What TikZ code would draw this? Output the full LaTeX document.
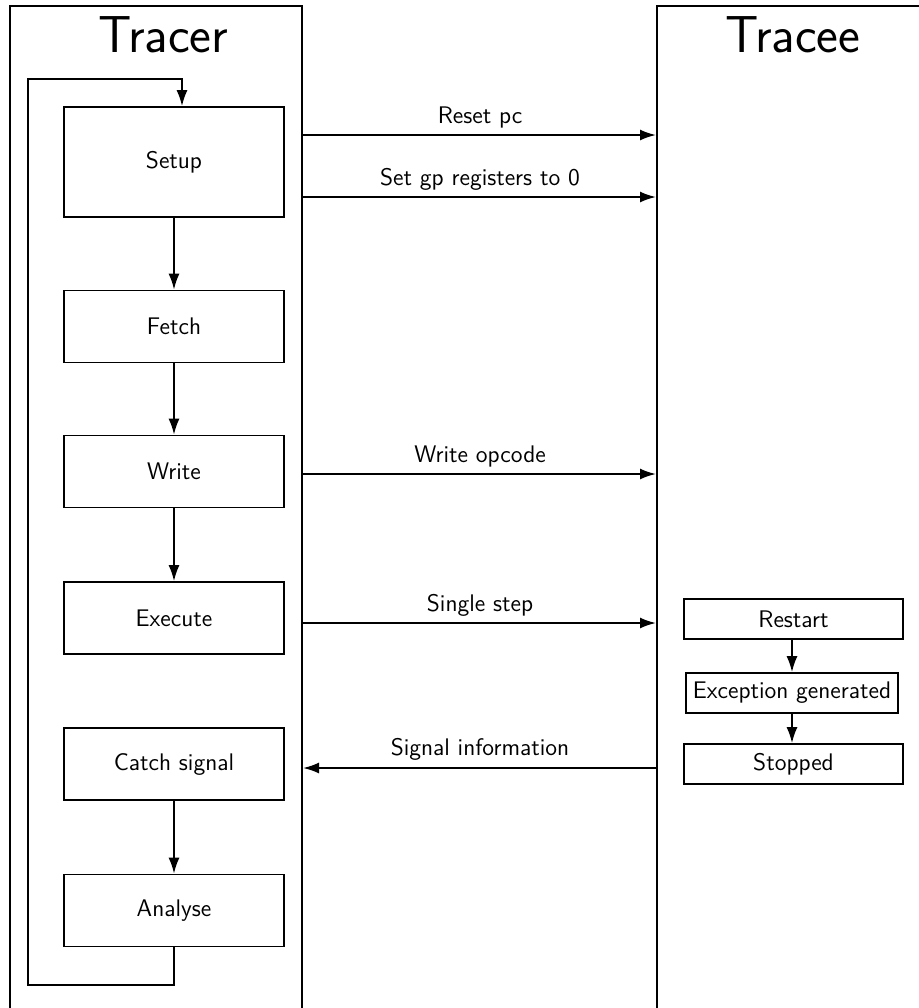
\documentclass[tikz,border=0pt]{standalone}
\usetikzlibrary{arrows.meta}
\begin{document}
\begin{tikzpicture}[x=0.5pt,y=-0.5pt,
  font=\sffamily\large,
  lane/.style={draw,line width=1pt,rectangle,inner sep=0pt},
  procbox/.style={draw,line width=0.8pt,rectangle,minimum width=110pt,minimum height=36pt,inner sep=0pt},
  statebox/.style={draw,line width=0.8pt,rectangle,minimum height=20pt,inner sep=2.5pt},
  arr/.style={-{Latex[length=8pt,width=5.5pt]},line width=1pt},
  msg/.style={anchor=base,inner sep=0pt},
  title/.style={anchor=base,font=\sffamily\fontsize{26}{30}\selectfont}]
\useasboundingbox (0,0) rectangle (919,1008);
\clip (0,0) rectangle (919,1008);

% swim lanes (they run past the page edge)
\node[lane,minimum width=146pt,minimum height=517pt] (tracer) at (156,523) {};
\node[lane,minimum width=151.5pt,minimum height=517pt] (tracee) at (808.5,523) {};
\node[title] (tracertitle) at (163.5,52) {Tracer};
\node[title] (traceetitle) at (793,52) {Tracee};

% tracer steps
\node[procbox,minimum height=55pt] (setup) at (174,162) {Setup};
\node[procbox] (fetch) at (174,326.5) {Fetch};
\node[procbox] (write) at (174,471.5) {Write};
\node[procbox] (execute) at (174,618) {Execute};
\node[procbox] (catch) at (174,764) {Catch signal};
\node[procbox] (analyse) at (174,910.5) {Analyse};

\draw[arr] (setup) -- (fetch);
\draw[arr] (fetch) -- (write);
\draw[arr] (write) -- (execute);
\draw[arr] (catch) -- (analyse);

% loop back from the analysis to the setup
\coordinate (loopL) at (28,985);
\coordinate (loopT) at (182,79);
\draw[arr] (analyse.south) |- (loopL) |- (loopT) -- (loopT |- setup.north);

% tracee states
\node[statebox,minimum width=109.5pt] (restart) at (793.5,619) {Restart};
\node[statebox,minimum width=106pt] (exc) at (792,693) {Exception generated};
\node[statebox,minimum width=109.5pt] (stopped) at (793.5,764) {Stopped};
\draw[arr] (restart.south -| exc.north) -- (exc.north);
\draw[arr] (exc) -- (exc |- stopped.north);

% messages between the processes
\coordinate (m1) at (0,135);
\coordinate (m2) at (0,197);
\coordinate (m3) at (0,474);
\coordinate (m4) at (0,623);
\coordinate (m5) at (0,768);
\draw[arr] (tracer.east |- m1) -- (tracee.west |- m1);
\draw[arr] (tracer.east |- m2) -- (tracee.west |- m2);
\draw[arr] (tracer.east |- m3) -- (tracee.west |- m3);
\draw[arr] (tracer.east |- m4) -- (tracee.west |- m4);
\draw[arr] (tracee.west |- m5) -- (tracer.east |- m5);
\node[msg] (l1) at (480,123) {Reset pc};
\node[msg] (l2) at (480,185) {Set gp registers to 0};
\node[msg] (l3) at (480,462) {Write opcode};
\node[msg] (l4) at (480,611) {Single step};
\node[msg] (l5) at (480,755) {Signal information};
\end{tikzpicture}
\end{document}
